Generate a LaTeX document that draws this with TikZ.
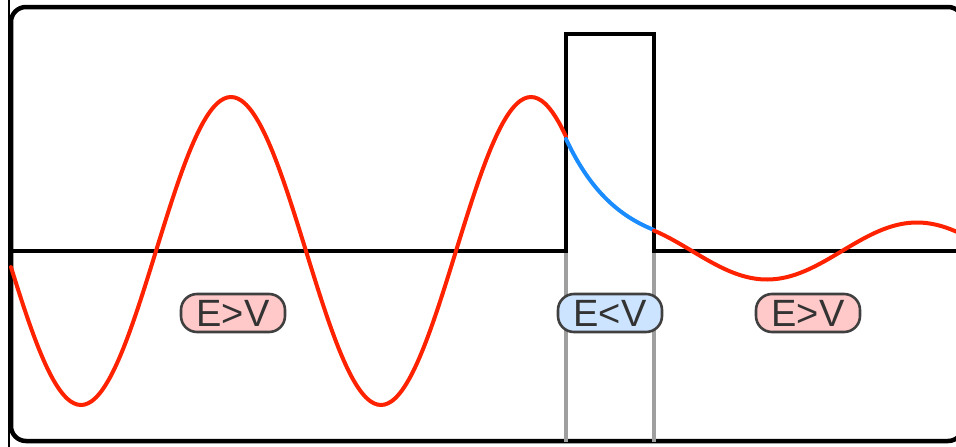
\documentclass[tikz,border=0pt]{standalone}
\usepackage{fontspec}
\setmainfont{Liberation Sans}
\usepackage{tikz}
\usepackage{xcolor}
\usetikzlibrary{positioning, calc}

\definecolor{waveRed}{HTML}{FF2200}
\definecolor{waveBlue}{HTML}{1A8CFF}
\definecolor{pillRed}{HTML}{FFC9C9}
\definecolor{pillBlue}{HTML}{CCE4FF}
\definecolor{pillText}{HTML}{333333}

\begin{document}
\begin{tikzpicture}[
    x=1pt, y=-1pt,
    frame/.style={line width=4.5pt, black, rounded corners=15pt},
    potential/.style={line width=4pt, black, line join=miter},
    guide/.style={line width=3.5pt, gray!75},
    wave/.style={line width=4pt, #1, line cap=round},
    pill/.style={draw=black!75, fill=#1, line width=2.6pt, rounded corners=16pt, minimum width=104pt, minimum height=38pt, inner sep=0pt, text=pillText, font=\fontsize{38}{40}\selectfont}
]
    \useasboundingbox (0,0) rectangle (956,447);

    % Frame
    \draw[frame] (11,7) rectangle (963,441);
    \draw[line width=2.5pt, black] (9,0) -- (9,447);

    % Barrier guides
    \draw[guide] (566,251) -- (566,442);
    \draw[guide] (654,251) -- (654,442);

    % Potential
    \draw[potential] (9,251) -- (566,251) -- (566,34) -- (654,34) -- (654,251) -- (956,251);

    % Wave function
    \draw[wave=waveRed] plot[domain=11:566, samples=160, smooth] (\x, {251-154*sin(deg(2*pi*(\x-156)/300))});
    \draw[wave=waveBlue] plot[domain=566:654, samples=40, smooth] (\x, {251-112*exp(-0.01902*(\x-566))});
    \draw[wave=waveRed] plot[domain=654:960, samples=90, smooth] (\x, {251+28.5*cos(deg(2*pi*(\x-767)/300))});

    % Region labels
    \node[pill=pillRed] (left) at (233,313) {E>V};
    \node[pill=pillBlue] (barrier) at (610,313) {E<V};
    \node[pill=pillRed] (right) at (808,313) {E>V};

\end{tikzpicture}
\end{document}
